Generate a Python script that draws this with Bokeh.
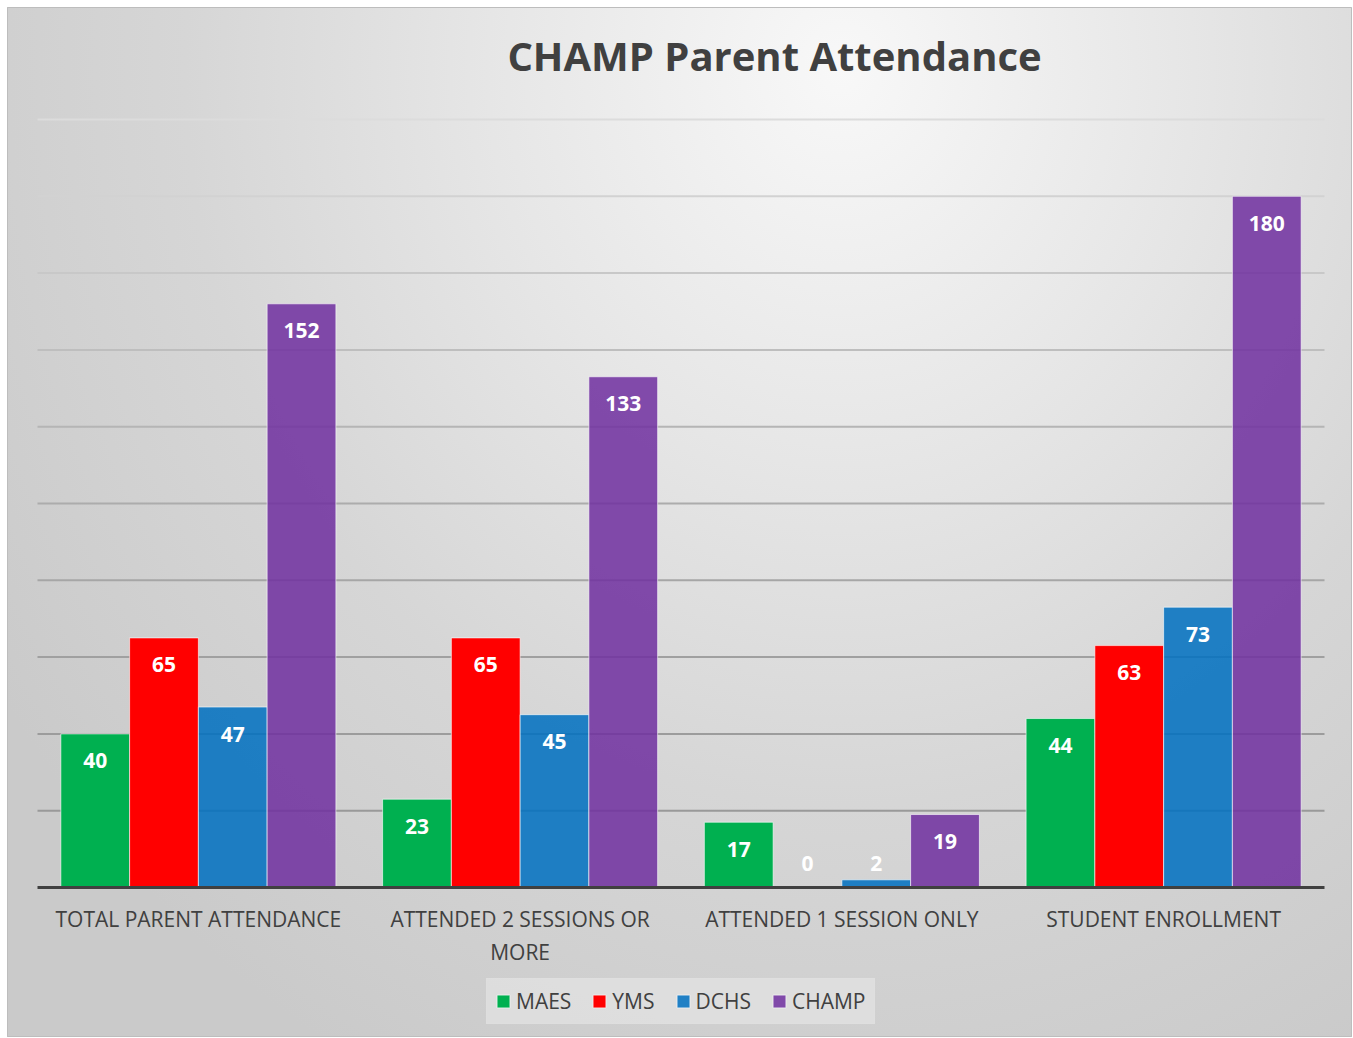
from bokeh.plotting import figure
from bokeh.models import FixedTicker, Legend, LegendItem, Range1d, Label
from bokeh.core.properties import value
from bokeh.embed import file_html
from bokeh.resources import INLINE

# ---- data ----
title_text = "CHAMP Parent Attendance"
categories = ["TOTAL PARENT ATTENDANCE", "ATTENDED 2 SESSIONS OR\nMORE",
              "ATTENDED 1 SESSION ONLY", "STUDENT ENROLLMENT"]
series_names = ["MAES", "YMS", "DCHS", "CHAMP"]
maes = [40, 23, 17, 44]
yms = [65, 65, 0, 63]
dchs = [47, 45, 2, 73]
champ = [152, 133, 19, 180]
grid_values = [20, 40, 60, 80, 100, 120, 140, 160, 180, 200]

# ---- styles ----
series = [maes, yms, dchs, champ]
colors = ["#00B050", "#FF0000", "#0070C0", "#7030A0"]
alphas = [1.0, 1.0, 0.86, 0.86]
grid_colors = ["#999999", "#9c9c9c", "#a0a0a0", "#a6a6a6", "#acacac",
               "#b5b5b5", "#bebebe", "#c8c8c8", "#d2d2d2", "#dcdcdc"]
FONT = "Open Sans"
TEXT = "#404040"

W, H = 1345, 1030
LEFT, RIGHT = 30, 28          # px between figure edge and category area
BASE, TOP_PX = 150, 880       # px below / above the zero line
n = len(categories)
px_x = (W - LEFT - RIGHT) / n
px_y = 768 / 200

p = figure(width=W, height=H,
           x_range=Range1d(-LEFT / px_x, n + RIGHT / px_x),
           y_range=Range1d(-BASE / px_y, TOP_PX / px_y),
           output_backend="svg", toolbar_location=None, y_axis_location=None,
           min_border=0, border_fill_color=None, background_fill_color=None,
           outline_line_color="#bdbdbd", outline_line_width=1)

p.styles = {
    "margin-left": "7px", "margin-top": "7px",
    "background": "radial-gradient(ellipse 75% 110% at 62% 6%, #f8f8f8 0%, #e6e6e6 35%, #d6d6d6 65%, #cacaca 100%)",
}

p.add_layout(Label(x=(774 - 37) / px_x, y=(887 - 55) / px_y, text=title_text,
                   text_font=FONT, text_font_style="bold", text_font_size="40px",
                   text_color=TEXT, text_align="center", text_baseline="middle"))

p.xgrid.visible = False
p.ygrid.visible = False
p.segment(x0=[0] * len(grid_values), x1=[n] * len(grid_values),
          y0=grid_values, y1=grid_values, line_color=grid_colors, line_width=2,
          level="underlay")

centers = [i + 0.5 for i in range(n)]
ax = p.xaxis[0]
ax.fixed_location = 0
ax.bounds = (0, n)
ax.ticker = FixedTicker(ticks=centers)
ax.major_label_overrides = {c: lab for c, lab in zip(centers, categories)}
ax.major_tick_line_color = None
ax.minor_tick_line_color = None
ax.axis_line_color = TEXT
ax.axis_line_width = 3
ax.major_label_text_font = FONT
ax.major_label_text_font_size = "21px"
ax.major_label_text_color = TEXT
ax.major_label_standoff = 11

bw = 0.2137
items = []
for j, (name, vals, col, a) in enumerate(zip(series_names, series, colors, alphas)):
    xs = [c + (j - 1.5) * bw for c in centers]
    r = p.vbar(x=xs, top=vals, bottom=0, width=bw, fill_color=col, fill_alpha=a,
               line_color="white", line_alpha=0.6, line_width=1)
    items.append(LegendItem(label=name, renderers=[r]))
    p.text(x=xs, y=[max(v, 13.3) for v in vals], text=[str(v) for v in vals],
           text_color="white", text_font=value(FONT), text_font_style="bold",
           text_font_size="21px", text_align="center", text_baseline="middle",
           y_offset=27)

legend = Legend(items=items, orientation="horizontal", location=(479, 13),
                label_text_font=FONT, label_text_font_size="21px", label_text_color=TEXT,
                glyph_width=16, glyph_height=16, label_standoff=5, spacing=20,
                label_height=20, padding=8, margin=0,
                border_line_color="#dfdfdf", border_line_width=1,
                background_fill_color="#dfdfdf", background_fill_alpha=0.9)
p.add_layout(legend, "center")

open("out.html", "w").write(file_html(p, INLINE))
